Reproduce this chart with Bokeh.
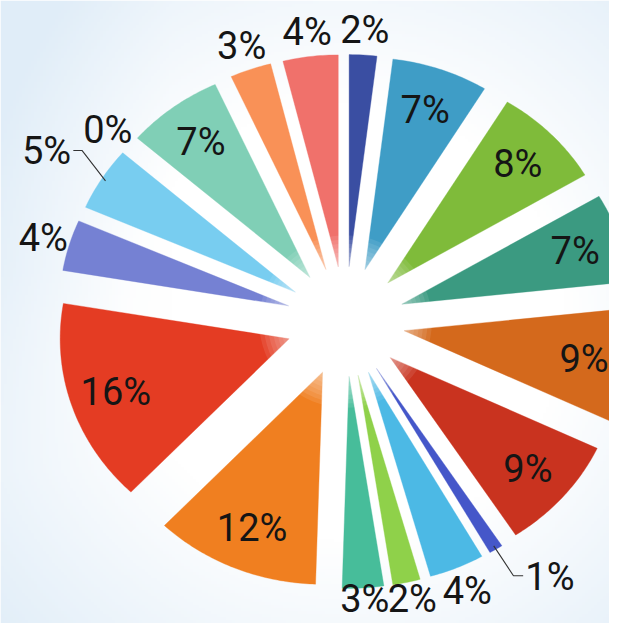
import math
import numpy as np
from bokeh.plotting import figure
from bokeh.models import Range1d, ColumnDataSource
from bokeh.embed import file_html
from bokeh.resources import INLINE
from bokeh.core.properties import value

# ---------------- data (clockwise from 12 o'clock) ----------------
values = [2, 7, 8, 7, 9, 9, 1, 4, 2, 3, 12, 16, 4, 5, 0, 7, 3, 4]
colors = ["#3a4ea2", "#3f9dc6", "#7fbb3a", "#3b9a81", "#d4691c", "#c9331f",
          "#4557c9", "#4cb9e5", "#8fd14a", "#47bd9a", "#f07f20", "#e43c23",
          "#7581d3", "#78cdf0", "#9e9e9e", "#80cfb6", "#f99157", "#f0716b"]

# ---------------- layout / style ----------------
W, H = 609, 623
CX_PX, CY_PX = 345, 321      # pie centre in frame pixels (from top-left)
SX = 1.08                    # horizontal stretch (px per data unit)
EXPLODE = 55                 # explosion distance of every slice
RADIUS = 212                 # slice radius
INSIDE_R = 224               # radius of inside labels
OUTSIDE_R = 292              # radius of outside labels
INSIDE_MIN = 7               # percentages >= this are labelled inside
LEADERS = {6: ("right", 0.0), 13: ("left", -2.7)}   # side, elbow angle shift (deg)
FONT = "Roboto"
FSIZE = "38px"
TXT = "#151515"

x0, x1 = -CX_PX / SX, (W - CX_PX) / SX
y0, y1 = -(H - CY_PX), CY_PX

p = figure(width=W, height=H, output_backend="svg", toolbar_location=None,
           x_range=Range1d(x0, x1), y_range=Range1d(y0, y1),
           min_border=0, outline_line_color=None)
p.axis.visible = False
p.grid.visible = False
p.background_fill_color = "#ffffff"
p.border_fill_color = "#ffffff"

# ---------------- soft background ----------------
nx, ny = 203, 208
img = np.empty((ny, nx), dtype=np.uint32)
view = img.view(dtype=np.uint8).reshape((ny, nx, 4))
jj, ii = np.mgrid[0:ny, 0:nx]
px = (ii + 0.5) * W / nx
py = H - (jj + 0.5) * H / ny
r = np.hypot((px - CX_PX), (py - CY_PX))
t = np.clip((r - 220) / 260, 0, 1)
t = np.clip(t + 0.30 * np.clip((170 - px) / 170, 0, 1) * np.clip((470 - py) / 200, 0, 1), 0, 1)
base = np.array([255, 255, 255])
edge = np.array([224, 237, 248])
for k in range(3):
    view[:, :, k] = (base[k] * (1 - t) + edge[k] * t).astype(np.uint8)
view[:, :, 3] = 255
p.image_rgba(image=[img], x=x0, y=y0, dw=x1 - x0, dh=y1 - y0)

# ---------------- slices ----------------
total = sum(values)
xs, ys, fills = [], [], []
mids = []
cum = 0
for v, c in zip(values, colors):
    a0 = math.pi / 2 - 2 * math.pi * cum / total
    a1 = math.pi / 2 - 2 * math.pi * (cum + v) / total
    b = (a0 + a1) / 2
    mids.append(b)
    cum += v
    if v == 0:
        continue
    ox, oy = EXPLODE * math.cos(b), EXPLODE * math.sin(b)
    n = max(6, int(abs(a0 - a1) * 80))
    angs = np.linspace(a0, a1, n)
    sx = [ox] + list(ox + RADIUS * np.cos(angs))
    sy = [oy] + list(oy + RADIUS * np.sin(angs))
    xs.append(sx)
    ys.append(sy)
    fills.append(c)

p.patches(xs=xs, ys=ys, fill_color=fills, line_color=fills, line_width=0.6,
          line_alpha=0.6)

# central soft glow that fades the slice tips
glow_r = list(np.linspace(44, 80, 10))
p.circle(x=[0] * len(glow_r), y=[0] * len(glow_r), radius=glow_r,
         fill_color="white", fill_alpha=0.09, line_color=None)

# ---------------- labels ----------------
pcts = [round(100 * v / total) for v in values]
lab_c = dict(x=[], y=[], t=[])
for i, (pc, b) in enumerate(zip(pcts, mids)):
    if i in LEADERS:
        continue
    rr = INSIDE_R if pc >= INSIDE_MIN else OUTSIDE_R
    lab_c["x"].append(rr * math.cos(b))
    lab_c["y"].append(max(rr * math.sin(b), y0 + 25))
    lab_c["t"].append(f"{pc}%")
p.text(x="x", y="y", text="t", source=ColumnDataSource(lab_c),
       text_font=value(FONT), text_font_size=FSIZE, text_color=TXT,
       text_align="center", text_baseline="middle")

for i, (side, shift) in LEADERS.items():
    b = mids[i]
    be = b + math.radians(shift)
    r_out = EXPLODE + RADIUS - 4
    ex, ey = 298 * math.cos(be), 298 * math.sin(be)
    hx = ex + (9 if side == "right" else -8)
    p.line(x=[r_out * math.cos(b), ex, hx], y=[r_out * math.sin(b), ey, ey],
           line_color="#333333", line_width=1.1)
    p.text(x=[hx + (2 if side == "right" else -2)], y=[ey - 1],
           text=[f"{pcts[i]}%"], text_font=value(FONT), text_font_size=FSIZE,
           text_color=TXT, text_align="left" if side == "right" else "right",
           text_baseline="alphabetic")

open("out.html", "w").write(file_html(p, INLINE))
